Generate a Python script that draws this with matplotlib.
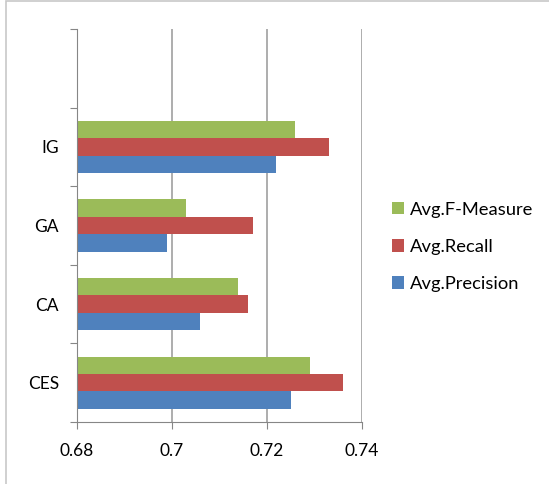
import numpy as np
import matplotlib.pyplot as plt
from matplotlib.patches import Rectangle

# Дані
categories = ['CES', 'CA', 'GA', 'IG']
precision = [0.725, 0.706, 0.699, 0.722]
recall = [0.736, 0.716, 0.717, 0.733]
fmeasure = [0.729, 0.714, 0.703, 0.726]
x_ticks = [0.68, 0.70, 0.72, 0.74]
x_labels = ['0.68', '0.7', '0.72', '0.74']

plt.rcParams['font.family'] = ['Lato', 'DejaVu Sans']

fig = plt.figure(figsize=(5.49, 4.84), dpi=100)
ax = fig.add_axes([0.1403, 0.128, 0.659 - 0.1403, 0.940 - 0.128])

# рамка навколо діаграми
fig.patches.append(Rectangle((0.0115, -0.1), 1.2, 1.0985, transform=fig.transFigure,
                             fill=False, edgecolor='#c8c8c8', linewidth=1.2))

y = np.arange(len(categories))
h = 0.222
ax.barh(y - h, precision, height=h, color='#4F81BD', label='Avg.Precision', zorder=3)
ax.barh(y, recall, height=h, color='#C0504D', label='Avg.Recall', zorder=3)
ax.barh(y + h, fmeasure, height=h, color='#9BBB59', label='Avg.F-Measure', zorder=3)

ax.set_xlim(0.68, 0.74)
ax.set_ylim(-0.5, 4.5)
ax.set_xticks(x_ticks)
ax.set_xticklabels(x_labels, fontsize=12.5)
ax.set_yticks(np.arange(-0.5, 4.6, 1))
ax.set_yticklabels([])
ax.set_yticks(y, minor=True)
ax.set_yticklabels(categories, minor=True, fontsize=12.5)
ax.tick_params(axis='y', which='minor', length=0, pad=13)
ax.tick_params(axis='y', which='major', length=5, color='#868686', direction='out')
ax.tick_params(axis='x', length=5, color='#868686', direction='out', pad=10)

ax.grid(axis='x', color='#a0a0a0', linewidth=1.2, zorder=0)
for s in ['top', 'right']:
    ax.spines[s].set_visible(False)
for s in ['left', 'bottom']:
    ax.spines[s].set_color('#868686')
    ax.spines[s].set_zorder(4)

handles, labels = ax.get_legend_handles_labels()
ax.legend(handles[::-1], labels[::-1], loc='center left', bbox_to_anchor=(0.714, 0.490),
          bbox_transform=fig.transFigure, frameon=False, fontsize=13.2,
          handlelength=0.65, handleheight=0.65, handletextpad=0.35,
          labelspacing=1.15, borderpad=0, borderaxespad=0)

fig.savefig('out.png', dpi=100)
